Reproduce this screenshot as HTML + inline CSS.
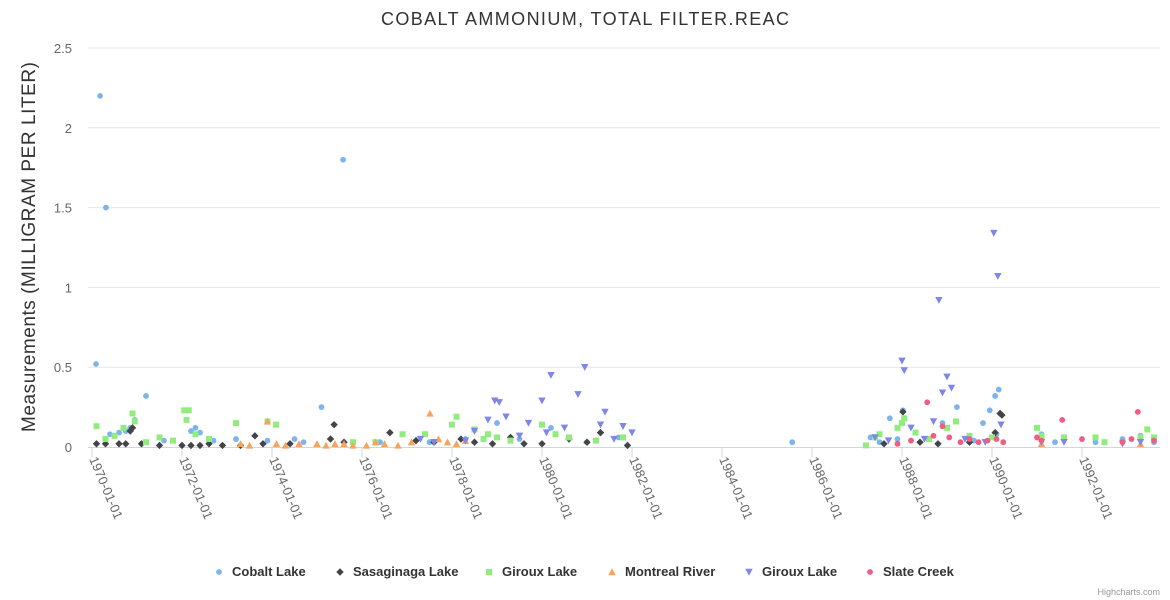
<!DOCTYPE html>
<html><head><meta charset="utf-8"><style>
html,body{margin:0;padding:0;background:#fff;}
svg{display:block;font-family:"Liberation Sans",Arial,sans-serif;}
</style></head><body>
<svg id="chart" width="1170" height="600">
<text x="585" y="25" text-anchor="middle" font-size="18" textLength="408" lengthAdjust="spacing" fill="#333">COBALT AMMONIUM, TOTAL FILTER.REAC</text>
<text transform="translate(35,247) rotate(-90)" text-anchor="middle" font-size="19" textLength="370" lengthAdjust="spacing" fill="#333">Measurements (MILLIGRAM PER LITER)</text>
<g id="grid"></g><g id="xaxis"></g><g id="marks"></g><g id="legend"></g>
<text x="1160" y="595" text-anchor="end" font-size="9" fill="#999">Highcharts.com</text>
</svg>
<script>
const yTicks=[0,0.5,1,1.5,2,2.5];
const yTickLabels=["0","0.5","1","1.5","2","2.5"];
const xTicks=[1970,1972,1974,1976,1978,1980,1982,1984,1986,1988,1990,1992];
const xTickLabels=["1970-01-01","1972-01-01","1974-01-01","1976-01-01","1978-01-01","1980-01-01","1982-01-01","1984-01-01","1986-01-01","1988-01-01","1990-01-01","1992-01-01"];
const seriesNames=["Cobalt Lake","Sasaginaga Lake","Giroux Lake","Montreal River","Giroux Lake","Slate Creek"];
const cobaltLake=[[1970.09,0.52],[1970.18,2.2],[1970.31,1.5],[1970.4,0.08],[1970.6,0.09],[1970.75,0.1],[1970.85,0.12],[1970.95,0.17],[1971.2,0.32],[1971.6,0.04],[1972.2,0.1],[1972.3,0.12],[1972.4,0.09],[1972.7,0.04],[1973.2,0.05],[1973.9,0.04],[1974.5,0.05],[1974.7,0.03],[1975.1,0.25],[1975.58,1.8],[1976.4,0.03],[1977.5,0.03],[1978.3,0.05],[1979.0,0.15],[1979.5,0.05],[1980.2,0.12],[1980.3,0.08],[1981.0,0.03],[1981.7,0.06],[1985.56,0.03],[1987.3,0.06],[1987.5,0.03],[1987.73,0.18],[1987.9,0.05],[1988.02,0.23],[1988.2,0.04],[1988.9,0.15],[1989.22,0.25],[1989.6,0.04],[1989.8,0.15],[1989.95,0.23],[1990.07,0.32],[1990.15,0.36],[1990.1,0.08],[1991.1,0.08],[1991.4,0.03],[1992.3,0.03],[1992.9,0.05],[1993.3,0.07],[1993.6,0.03]];
const sasaginagaLake=[[1970.1,0.02],[1970.3,0.02],[1970.6,0.02],[1970.75,0.02],[1970.85,0.1],[1970.9,0.12],[1971.1,0.02],[1971.5,0.01],[1972.0,0.01],[1972.2,0.01],[1972.4,0.01],[1972.6,0.02],[1972.9,0.01],[1973.3,0.01],[1973.62,0.07],[1973.8,0.02],[1974.4,0.02],[1975.38,0.14],[1975.3,0.05],[1975.6,0.03],[1976.62,0.09],[1977.2,0.04],[1977.6,0.03],[1978.2,0.05],[1978.5,0.03],[1978.9,0.02],[1979.3,0.06],[1979.6,0.02],[1980.0,0.02],[1980.6,0.05],[1981.0,0.03],[1981.3,0.09],[1981.9,0.01],[1987.6,0.02],[1988.02,0.22],[1988.4,0.03],[1988.8,0.02],[1989.5,0.03],[1990.07,0.09],[1990.18,0.21],[1990.22,0.2]];
const girouxLakeA=[[1970.1,0.13],[1970.3,0.05],[1970.5,0.07],[1970.7,0.12],[1970.9,0.21],[1970.95,0.16],[1971.2,0.03],[1971.5,0.06],[1971.8,0.04],[1972.05,0.23],[1972.15,0.23],[1972.1,0.17],[1972.3,0.08],[1972.6,0.05],[1973.2,0.15],[1973.9,0.16],[1974.09,0.14],[1975.8,0.03],[1976.3,0.03],[1976.9,0.08],[1977.4,0.08],[1978.0,0.14],[1978.1,0.19],[1978.5,0.11],[1978.7,0.05],[1978.8,0.08],[1979.0,0.06],[1979.3,0.04],[1980.0,0.14],[1980.3,0.08],[1980.6,0.06],[1981.2,0.04],[1981.8,0.06],[1987.2,0.01],[1987.4,0.06],[1987.5,0.08],[1987.9,0.12],[1988.0,0.15],[1988.05,0.18],[1988.3,0.09],[1988.6,0.05],[1989.0,0.12],[1989.2,0.16],[1989.5,0.07],[1990.0,0.06],[1991.0,0.12],[1991.1,0.07],[1991.6,0.06],[1992.3,0.06],[1992.5,0.03],[1993.3,0.06],[1993.45,0.11],[1993.6,0.06]];
const montrealRiver=[[1973.3,0.02],[1973.5,0.01],[1973.9,0.16],[1974.1,0.02],[1974.3,0.01],[1974.6,0.02],[1975.0,0.02],[1975.2,0.01],[1975.4,0.02],[1975.6,0.02],[1975.8,0.01],[1976.1,0.01],[1976.3,0.03],[1976.5,0.02],[1976.8,0.01],[1977.1,0.03],[1977.51,0.21],[1977.7,0.05],[1977.9,0.03],[1978.1,0.02],[1978.3,0.04],[1991.1,0.02],[1993.3,0.02]];
const girouxLakeB=[[1977.3,0.05],[1977.6,0.03],[1978.3,0.04],[1978.5,0.1],[1978.8,0.17],[1978.95,0.29],[1979.05,0.28],[1979.2,0.19],[1979.5,0.07],[1979.7,0.15],[1980.0,0.29],[1980.1,0.09],[1980.2,0.45],[1980.5,0.12],[1980.8,0.33],[1980.95,0.5],[1981.3,0.14],[1981.4,0.22],[1981.6,0.05],[1981.8,0.13],[1982.0,0.09],[1987.4,0.06],[1987.7,0.04],[1988.0,0.54],[1988.05,0.48],[1988.2,0.12],[1988.5,0.05],[1988.7,0.16],[1988.82,0.92],[1988.9,0.34],[1989.0,0.44],[1989.1,0.37],[1989.4,0.05],[1989.85,0.03],[1990.04,1.34],[1990.13,1.07],[1990.2,0.14],[1991.1,0.03],[1991.6,0.03],[1992.9,0.02],[1993.3,0.03]];
const slateCreek=[[1987.9,0.02],[1988.2,0.04],[1988.56,0.28],[1988.7,0.07],[1988.9,0.13],[1989.05,0.06],[1989.3,0.03],[1989.5,0.05],[1989.7,0.03],[1989.9,0.04],[1990.1,0.05],[1990.25,0.03],[1991.0,0.06],[1991.1,0.04],[1991.56,0.17],[1992.0,0.05],[1992.9,0.03],[1993.1,0.05],[1993.24,0.22],[1993.6,0.04]];
const colors=["#7cb5ec","#434348","#90ed7d","#f7a35c","#8085e9","#f15c80"];
const shapes=["circle","diamond","square","triangle","triangle-down","circle"];
const allSeries=[cobaltLake,sasaginagaLake,girouxLakeA,montrealRiver,girouxLakeB,slateCreek];
const NS="http://www.w3.org/2000/svg";
const x0=92,pxPerYear=45,yBase=447,pxPerUnit=159.6;
function xScale(v){return x0+(v-1970)*pxPerYear;}
function yScale(v){return yBase-v*pxPerUnit;}
function mk(tag,attrs){const e=document.createElementNS(NS,tag);for(const k in attrs)e.setAttribute(k,attrs[k]);return e;}
function shape(type,cx,cy,color){
  let e;
  if(type==="circle")e=mk("circle",{cx:cx,cy:cy,r:2.9,fill:color});
  else if(type==="square")e=mk("rect",{x:cx-3,y:cy-3,width:6,height:6,fill:color});
  else if(type==="diamond")e=mk("path",{d:`M${cx},${cy-3.7}L${cx+3.7},${cy}L${cx},${cy+3.7}L${cx-3.7},${cy}Z`,fill:color});
  else if(type==="triangle")e=mk("path",{d:`M${cx},${cy-3.7}L${cx+3.7},${cy+3.2}L${cx-3.7},${cy+3.2}Z`,fill:color});
  else e=mk("path",{d:`M${cx-3.7},${cy-3.2}L${cx+3.7},${cy-3.2}L${cx},${cy+3.7}Z`,fill:color});
  return e;
}
const grid=document.getElementById("grid");
yTicks.forEach((t,i)=>{
  const y=yScale(t);
  if(i>0){const l=mk("line",{x1:88,x2:1160,y1:y,y2:y,stroke:"#e6e6e6"});
  
  
  grid.appendChild(l);}
  const tx=mk("text",{x:72,y:y+5,"text-anchor":"end","font-size":"13",fill:"#666"});
  tx.textContent=yTickLabels[i];
  
  
  grid.appendChild(tx);
});
const xa=document.getElementById("xaxis");
const axl=mk("line",{x1:88,x2:1160,y1:yBase+0.5,y2:yBase+0.5,stroke:"#ccd6eb"});


xa.appendChild(axl);
xTicks.forEach((t,i)=>{
  const x=xScale(t);
  const tk=mk("line",{x1:x,x2:x,y1:yBase,y2:yBase+10,stroke:"#ccd6eb"});
  
  
  xa.appendChild(tk);
  const tx=mk("text",{transform:`translate(${x-3},${yBase+12}) rotate(67)`,"font-size":"13",fill:"#666"});
  tx.textContent=xTickLabels[i];
  
  
  xa.appendChild(tx);
});
const marks=document.getElementById("marks");
allSeries.forEach((s,si)=>{
  const g=mk("g",{});
  
  
  s.forEach(p=>{
    const e=shape(shapes[si],xScale(p[0]),yScale(p[1]),colors[si]);
    
    
    g.appendChild(e);
  });
  marks.appendChild(g);
});
const legend=document.getElementById("legend");
const legendX=[219,340,489,612,749,870];
seriesNames.forEach((n,i)=>{
  const g=mk("g",{});
  
  
  g.appendChild(shape(shapes[i],legendX[i],572,colors[i]));
  const tx=mk("text",{x:legendX[i]+13,y:576,"font-size":"13","font-weight":"bold",fill:"#333"});
  tx.textContent=n;
  g.appendChild(tx);
  legend.appendChild(g);
});
</script>
</body></html>
